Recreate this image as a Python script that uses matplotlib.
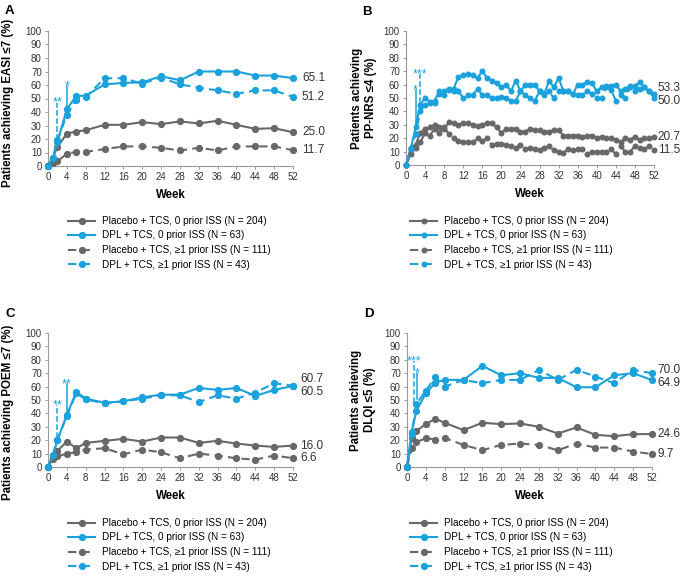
import numpy as np
import matplotlib.pyplot as plt

plt.rcParams['font.family'] = ['Liberation Sans', 'DejaVu Sans']

BLUE = '#1ba1dc'
GRAY = '#686868'

# visit weeks for panels A, C, D
weeks = [0, 1, 2, 4, 6, 8, 12, 16, 20, 24, 28, 32, 36, 40, 44, 48, 52]
# weekly for panel B
weeks_b = list(range(53))

# Panel A - EASI <=7
easi_pbo0 = [0, 6, 14, 24, 25.5, 26.5, 30.5, 30.5, 32.5, 31, 33, 31.5, 33.5, 30.5, 27.5, 28, 25.0]
easi_dpl0 = [0, 5, 18, 42, 52, 52, 60.5, 61.5, 62, 66.5, 63.5, 70, 70, 70, 67, 67, 65.1]
easi_pbo1 = [0, 2, 3.5, 9, 10.5, 10.5, 12.5, 14.5, 14.5, 13.5, 11.5, 13.5, 11.5, 14.5, 14.5, 14.5, 11.7]
easi_dpl1 = [0, 6, 19, 38, 49, 51, 65, 65, 61, 65.5, 60.5, 58, 56, 53.5, 56, 56, 51.2]

# Panel B - PP-NRS <=4 (weekly)
nrs_pbo0 = [0, 13, 15, 24, 27, 28, 30, 28, 27, 32, 31, 30, 31, 31, 30, 29, 30, 31, 31, 28,
            24, 27, 27, 27, 25, 25, 27, 26, 26, 25, 25, 26, 26, 22, 22, 22, 22, 21, 22, 22,
            20, 21, 20, 20, 19, 17, 20, 19, 21, 19, 20, 20, 20.7]
nrs_dpl0 = [0, 12, 28, 45, 50, 47, 48, 55, 55, 57, 57, 66, 67, 68, 67, 65, 70, 65, 63, 61,
            58, 60, 55, 63, 55, 60, 60, 60, 55, 53, 63, 58, 65, 55, 55, 53, 60, 60, 62, 61,
            55, 58, 59, 59, 60, 55, 57, 59, 59, 62, 58, 55, 53.3]
nrs_pbo1 = [0, 8, 13, 17, 24, 22, 27, 24, 28, 23, 20, 18, 17, 17, 17, 20, 18, 20, 15, 16,
            16, 15, 14, 13, 15, 12, 13, 12, 11, 13, 14, 11, 10, 9, 12, 11, 12, 12, 8, 10,
            10, 10, 10, 12, 8, 14, 10, 10, 14, 13, 12, 14, 11.5]
nrs_dpl1 = [0, 12, 23, 40, 45, 46, 46, 53, 52, 56, 55, 55, 50, 52, 52, 57, 52, 52, 50, 50,
            51, 50, 48, 48, 55, 52, 50, 48, 55, 52, 55, 50, 55, 55, 55, 53, 52, 52, 55, 53,
            50, 50, 58, 56, 48, 52, 50, 58, 55, 57, 58, 55, 50.0]

# Panel C - POEM <=7
poem_pbo0 = [0, 8, 12, 19, 14, 18, 19.5, 21, 19, 22, 22, 18, 19.5, 17.5, 16, 15, 16.0]
poem_dpl0 = [0, 8, 20, 39, 56, 51, 48, 49, 52, 54, 54, 59, 57.5, 59, 53, 57.5, 60.5]
poem_pbo1 = [0, 6, 8, 10, 11, 13, 14, 9.5, 13, 11, 6.5, 10, 8.5, 6.5, 5.5, 8.5, 6.6]
poem_dpl1 = [0, 9, 20.5, 38, 55, 50.5, 47.5, 49, 51, 53.5, 53.5, 48.5, 53.5, 51, 55.5, 62.5, 60.7]

# Panel D - DLQI <=5
dlqi_pbo0 = [0, 22, 27, 32, 36, 33, 27.5, 33, 32, 32.5, 30, 25, 29.5, 24, 23, 24.5, 24.6]
dlqi_dpl0 = [0, 26, 42, 55, 63, 65, 65, 75.5, 68.5, 70, 66.5, 66.5, 59.5, 59.5, 68.5, 70, 64.9]
dlqi_pbo1 = [0, 14, 18.5, 21.5, 20.5, 21.5, 16.5, 12.5, 16.5, 17.5, 16.5, 12.5, 17.5, 14.5, 14.5, 11.5, 9.7]
dlqi_dpl1 = [0, 25, 47, 57, 67, 60, 65, 62.5, 65, 65, 72.5, 65, 72.5, 67.5, 62.5, 72.5, 70.0]

legend_labels = ['Placebo + TCS, 0 prior ISS (N = 204)',
                 'DPL + TCS, 0 prior ISS (N = 63)',
                 'Placebo + TCS, \u22651 prior ISS (N = 111)',
                 'DPL + TCS, \u22651 prior ISS (N = 43)']

W, H = 685, 579
fig = plt.figure(figsize=(W / 100, H / 100), dpi=100)


def box(l, t, r, b):
    return [l / W, 1 - b / H, (r - l) / W, (b - t) / H]


def panel(rect, x, series, ylabel, letter, ends, signif, leg_x, leg_y,
          ms=4.2, ylab=(-0.14, 0.5), end_dx=1.8):
    ax = fig.add_axes(rect)
    styles = [(GRAY, '-'), (BLUE, '-'), (GRAY, '--'), (BLUE, '--')]
    handles = []
    for (c, ls), y in zip(styles, series):
        h, = ax.plot(x, y, color=c, ls=ls, lw=1.5, marker='o', ms=ms,
                     dashes=(4, 2.5) if ls == '--' else (None, None), clip_on=False, zorder=3)
        handles.append(h)
    ax.set_xlim(0, 52)
    ax.set_ylim(0, 100)
    ax.set_xticks(range(0, 53, 4))
    ax.set_yticks(range(0, 101, 10))
    for s in ['top', 'right']:
        ax.spines[s].set_visible(False)
    for s in ['left', 'bottom']:
        ax.spines[s].set_color('#999999')
        ax.spines[s].set_linewidth(0.8)
    ax.tick_params(labelsize=7, colors='#999999', labelcolor='#333333', length=2.5, width=0.7, pad=2)
    ax.set_ylabel(ylabel, fontsize=8.3, fontweight='bold', linespacing=1.15)
    ax.yaxis.set_label_coords(*ylab)
    ax.set_xlabel('Week', fontsize=8.3, fontweight='bold', labelpad=5)
    ax.text(-0.175, 1.145, letter, transform=ax.transAxes, fontsize=9.5, fontweight='bold',
            va='center', ha='left')
    for val, ypos in ends:
        ax.text(52 + end_dx, ypos, f'{val:.1f}', fontsize=8.5, color='#333333', va='center', ha='left')
    # significance markers
    for xs, y0, y1, lab, ls in signif:
        ax.plot([xs, xs], [y0, y1], color=BLUE, lw=1.1, ls=ls, zorder=4)
        ax.text(xs, y1 - 2.5, lab, color=BLUE, fontsize=9, ha='center', va='baseline')
    fig.legend(handles, legend_labels, loc='upper left', bbox_to_anchor=(leg_x / W, 1 - leg_y / H),
               frameon=False, fontsize=7.2, handlelength=2.7, handletextpad=0.65,
               labelspacing=0.45, borderpad=0, borderaxespad=0)
    return ax


panel(box(48, 31, 293, 166), weeks, [easi_pbo0, easi_dpl0, easi_pbo1, easi_dpl1],
      'Patients achieving EASI \u22647 (%)', 'A',
      [(65.1, 65.1), (51.2, 51.2), (25.0, 25.0), (11.7, 11.7)],
      [(2, 19, 47, '**', '--'), (4, 42, 59, '*', '-')], 68, 216,
      ylab=(-0.138, 0.47), end_dx=1.9)

panel(box(406, 31, 654, 165), weeks_b, [nrs_pbo0, nrs_dpl0, nrs_pbo1, nrs_dpl1],
      'Patients achieving\nPP-NRS \u22644 (%)', 'B',
      [(53.3, 57.5), (50.0, 47.5), (20.7, 21), (11.5, 11.5)],
      [(2, 29, 56, '*', '-'), (3, 46, 68, '***', '--')], 410, 216, ms=3.3,
      ylab=(-0.118, 0.5), end_dx=0.8)

panel(box(48, 333, 293, 467), weeks, [poem_pbo0, poem_dpl0, poem_pbo1, poem_dpl1],
      'Patients achieving POEM \u22647 (%)', 'C',
      [(60.7, 66), (60.5, 56), (16.0, 16), (6.6, 6.6)],
      [(2, 22, 46, '**', '--'), (4, 41, 62, '**', '-')], 68, 518,
      ylab=(-0.138, 0.41), end_dx=1.5)

panel(box(407, 333, 652, 467), weeks, [dlqi_pbo0, dlqi_dpl0, dlqi_pbo1, dlqi_dpl1],
      'Patients achieving\nDLQI \u22645 (%)', 'D',
      [(70.0, 72.5), (64.9, 63), (24.6, 24.6), (9.7, 9.7)],
      [(1.4, 48, 79, '***', '--'), (2.2, 51, 70, '*', '-')], 410, 518,
      ylab=(-0.128, 0.5), end_dx=1.2)

fig.savefig('out.png', dpi=100)
